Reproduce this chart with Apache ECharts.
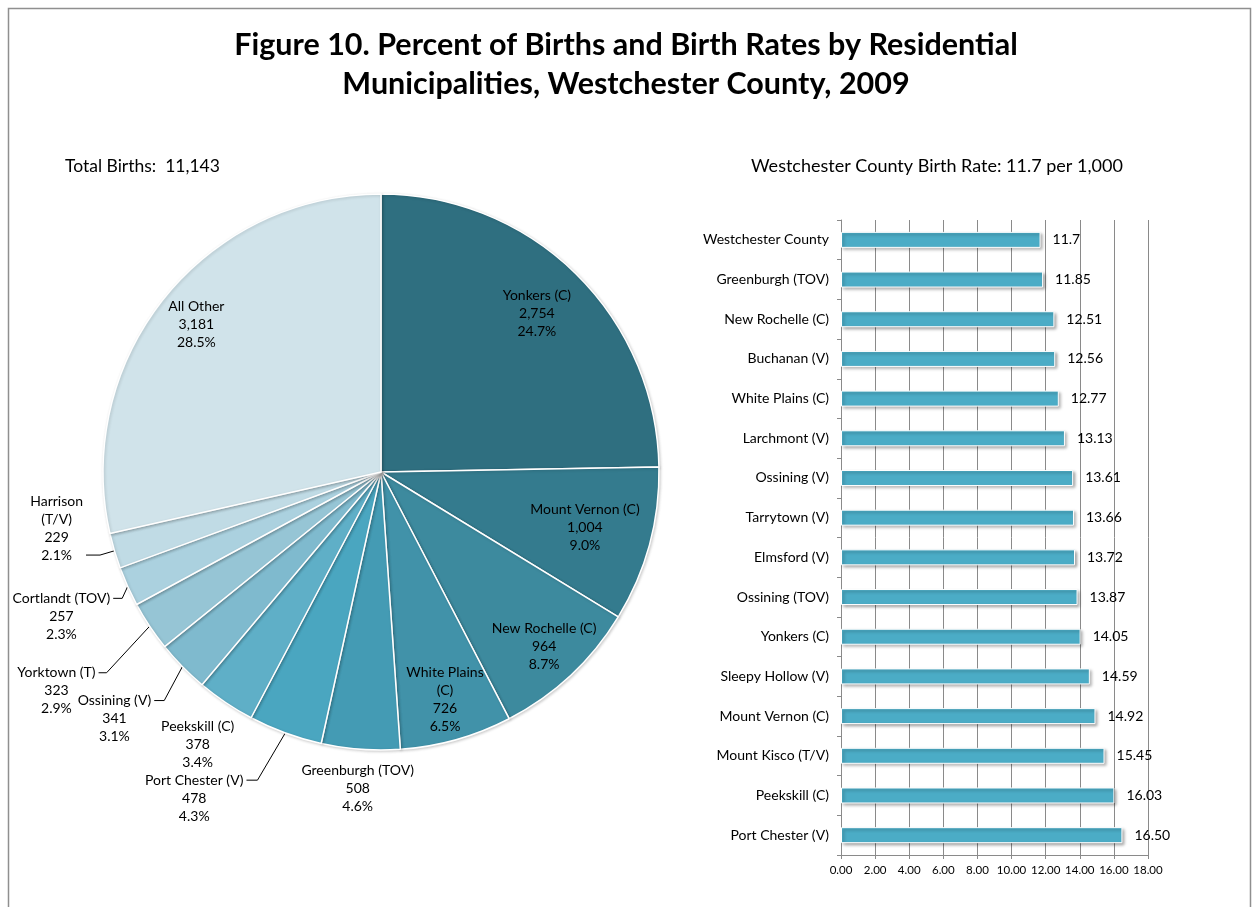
<!DOCTYPE html>
<html>
<head>
<meta charset="utf-8">
<title>Figure 10</title>
<script src="https://cdn.jsdelivr.net/npm/echarts@6/dist/echarts.min.js"></script>
<style>
  html, body { margin: 0; padding: 0; background: #fff; }
  #chart { width: 1252px; height: 907px; }
</style>
</head>
<body>
<div id="chart"></div>
<script>
// pie: births by municipality, clockwise from 12 o'clock
const pieNames = ['Yonkers (C)', 'Mount Vernon (C)', 'New Rochelle (C)', 'White Plains\n(C)', 'Greenburgh (TOV)',
  'Port Chester (V)', 'Peekskill (C)', 'Ossining (V)', 'Yorktown (T)', 'Cortlandt (TOV)', 'Harrison\n(T/V)', 'All Other']
const pieBirths = [2754, 1004, 964, 726, 508, 478, 378, 341, 323, 257, 229, 3181]
const pieColors = ['#2f6f80', '#347b8e', '#3d8a9e', '#4192a9', '#449bb4', '#4aa6c0',
  '#5fafc7', '#7fbace', '#96c5d5', '#abd1df', '#c0dbe5', '#d0e3ea']

// bars: birth rate per 1,000, top to bottom
const rateNames = ['Westchester County', 'Greenburgh (TOV)', 'New Rochelle (C)', 'Buchanan (V)', 'White Plains (C)',
  'Larchmont (V)', 'Ossining (V)', 'Tarrytown (V)', 'Elmsford (V)', 'Ossining (TOV)', 'Yonkers (C)',
  'Sleepy Hollow (V)', 'Mount Vernon (C)', 'Mount Kisco (T/V)', 'Peekskill (C)', 'Port Chester (V)']
const rateTexts = ['11.7', '11.85', '12.51', '12.56', '12.77', '13.13', '13.61', '13.66', '13.72', '13.87',
  '14.05', '14.59', '14.92', '15.45', '16.03', '16.50']

const FONT = 'Lato'
const PIE_C = [381, 472]
const PIE_R = 278

// label placement: k = label centre as a fraction of the radius,
// line = [radial length, horizontal length, elbow angle shift in degrees]
const pieLabelPlace = [
  { k: 0.8 }, { k: 0.76 }, { k: 0.86 }, { k: 0.85 }, { k: 1.14 },
  { line: [54, 11, 1.7] }, { k: 1.18 }, { line: [37, 10, -2.1] }, { line: [62, 8, -2.5] }, { line: [10, 9, -1.7] },
  { line: [15, 14, 0], last: true }, { k: 0.85 }
]

const total = pieBirths.reduce((a, b) => a + b, 0)
const midAngles = []
let acc = 0
pieBirths.forEach(v => {
  midAngles.push((acc + v / 2) / total * Math.PI * 2)
  acc += v
})

const pieLabelLayout = params => {
  const i = params.dataIndex
  const p = pieLabelPlace[i]
  const a = midAngles[i]
  if (!p.line) {
    const r = p.k * PIE_R
    return { x: PIE_C[0] + r * Math.sin(a), y: PIE_C[1] - r * Math.cos(a), align: 'center', verticalAlign: 'middle' }
  }
  const b = a + p.line[2] * Math.PI / 180
  const ex = PIE_C[0] + PIE_R * Math.sin(a), ey = PIE_C[1] - PIE_R * Math.cos(a)
  const bx = PIE_C[0] + (PIE_R + p.line[0]) * Math.sin(b), by = PIE_C[1] - (PIE_R + p.line[0]) * Math.cos(b)
  const tx = bx - p.line[1]
  return {
    x: tx - 3,
    y: p.last ? by + 9 : by - 9,
    align: 'right',
    verticalAlign: p.last ? 'bottom' : 'top',
    labelLinePoints: [[ex, ey], [bx, by], [tx, by]]
  }
}

const chart = echarts.init(document.getElementById('chart'))

chart.setOption({
  backgroundColor: '#fff',
  animation: false,
  textStyle: { fontFamily: FONT },
  graphic: [{
    type: 'rect',
    shape: { x: 8.5, y: 8.5, width: 1242, height: 940 },
    style: { fill: 'none', stroke: '#8f8f8f', lineWidth: 1.5 },
    silent: true
  }],
  title: [
    {
      text: 'Figure 10. Percent of Births and Birth Rates by Residential\nMunicipalities, Westchester County, 2009',
      left: 'center',
      top: 21,
      textStyle: { fontFamily: FONT, fontSize: 30.5, fontWeight: 'bold', color: '#000', lineHeight: 39, align: 'center' }
    },
    {
      text: 'Total Births:  11,143',
      left: 60,
      top: 152,
      textStyle: { fontFamily: FONT, fontSize: 17.5, fontWeight: 'normal', color: '#000' }
    },
    {
      text: 'Westchester County Birth Rate: 11.7 per 1,000',
      left: 746,
      top: 152,
      textStyle: { fontFamily: FONT, fontSize: 18, fontWeight: 'normal', color: '#000' }
    }
  ],
  grid: { left: 841, right: 104, top: 220, bottom: 52 },
  xAxis: {
    type: 'value',
    min: 0,
    max: 18,
    interval: 2,
    axisLine: { show: true, lineStyle: { color: '#8a8a8a' } },
    axisTick: { show: true, length: 4, lineStyle: { color: '#8a8a8a' } },
    axisLabel: { color: '#000', fontSize: 11.5, margin: 9, formatter: v => v.toFixed(2) },
    splitLine: { show: true, lineStyle: { color: '#8a8a8a', width: 1 } }
  },
  yAxis: {
    type: 'category',
    inverse: true,
    data: rateNames,
    axisLine: { show: true, lineStyle: { color: '#8a8a8a' } },
    axisTick: { show: true, length: 4, lineStyle: { color: '#8a8a8a' } },
    axisLabel: { color: '#000', fontSize: 14, margin: 12 }
  },
  series: [
    {
      type: 'pie',
      center: PIE_C,
      radius: PIE_R,
      startAngle: 90,
      clockwise: true,
      avoidLabelOverlap: false,
      itemStyle: {
        borderColor: '#fff',
        borderWidth: 1.5,
        shadowColor: 'rgba(0,0,0,0.18)',
        shadowBlur: 3,
        shadowOffsetX: 1,
        shadowOffsetY: 1
      },
      data: pieNames.map((n, i) => ({
        name: n,
        value: pieBirths[i],
        itemStyle: { color: pieColors[i] },
        labelLine: { show: !!pieLabelPlace[i].line }
      })),
      label: {
        show: true,
        position: 'outside',
        color: '#000',
        fontSize: 14,
        formatter: p => {
          const pct = (p.value / total * 100).toFixed(1) + '%'
          const lines = p.name.split('\n').concat([p.value.toLocaleString('en-US'), pct])
          return lines.map(l => '{t|' + l + '}').join('\n')
        },
        rich: { t: { fontFamily: FONT, fontSize: 14, lineHeight: 18, color: '#000', align: 'center' } }
      },
      labelLine: { show: true, lineStyle: { color: '#000', width: 1 } },
      labelLayout: pieLabelLayout,
      emphasis: { disabled: true }
    },
    {
      type: 'bar',
      data: rateTexts.map(Number),
      barWidth: 16,
      itemStyle: {
        color: '#4bacc6',
        borderColor: '#fff',
        borderWidth: 1,
        shadowColor: 'rgba(0,0,0,0.35)',
        shadowBlur: 3,
        shadowOffsetX: 2,
        shadowOffsetY: 2
      },
      label: {
        show: true,
        position: 'right',
        distance: 12,
        color: '#000',
        fontSize: 14,
        formatter: p => rateTexts[p.dataIndex]
      },
      emphasis: { disabled: true }
    }
  ]
})

window.addEventListener('resize', () => chart.resize())
</script>
</body>
</html>
